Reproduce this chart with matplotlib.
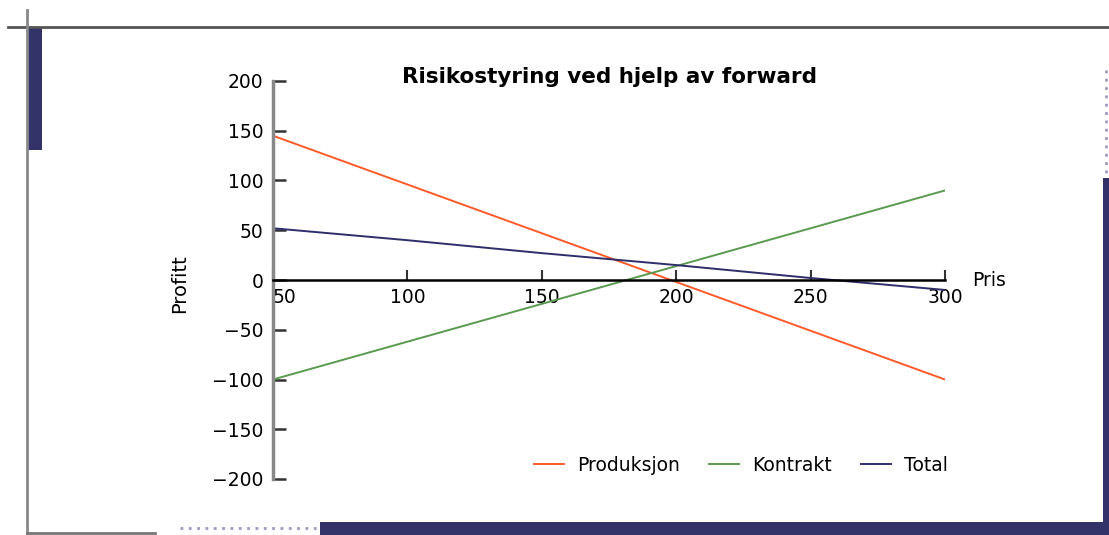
import matplotlib.pyplot as plt
from matplotlib.lines import Line2D
from matplotlib.patches import Rectangle

plt.rcParams['font.family'] = ['DejaVu Sans']

# --------        data        --------
pris = [50, 100, 150, 200, 250, 300]
produksjon = [145, 96, 47, -2, -51, -100]
kontrakt = [-100, -62, -24, 14, 52, 90]
total = [52, 40, 27, 15, 2, -10]

series_names = ['Produksjon', 'Kontrakt', 'Total']
series_colors = ['#ff5a2a', '#5a9a50', '#2e2e6a']

W, H = 1109, 535
fig = plt.figure(figsize=(W / 100, H / 100), dpi=100)


def px(x, y):
    """Pikselkoordinater (fra øverst til venstre) -> figurkoordinater."""
    return x / W, 1 - y / H


# --------        ramme rundt figuren        --------
navy = '#33336a'
fig.add_artist(Line2D([8 / W, 1], [px(0, 27)[1]] * 2, color='#555555', lw=2))
fig.add_artist(Line2D([27 / W] * 2, [px(0, 10)[1], px(0, 533)[1]], color='#888888', lw=2))
fig.add_artist(Line2D([27 / W, 155 / W], [px(0, 533)[1]] * 2, color='#777777', lw=2))
fig.add_artist(Rectangle(px(28, 150), 14 / W, 123 / H, color=navy, lw=0))
fig.add_artist(Rectangle(px(320, 535), (W - 320) / W, 13 / H, color=navy, lw=0))
fig.add_artist(Rectangle(px(1103, 535), 6 / W, 357 / H, color=navy, lw=0))
fig.add_artist(Line2D([180 / W, 318 / W], [px(0, 528)[1]] * 2, color='#9a9ac0', lw=2, ls=(0, (1, 2))))
fig.add_artist(Line2D([1106 / W] * 2, [px(0, 70)[1], px(0, 176)[1]], color='#9a9ac0', lw=2, ls=(0, (1, 2))))

# --------        diagram        --------
ax = fig.add_axes([273 / W, 56 / H, 672 / W, 398 / H])

for name, values, color in zip(series_names, [produksjon, kontrakt, total], series_colors):
    ax.plot(pris, values, color=color, lw=1.4, label=name)

ax.set_xlim(50, 300)
ax.set_ylim(-200, 200)
ax.set_xticks(pris)
ax.set_yticks(range(-200, 201, 50))

ax.spines['top'].set_visible(False)
ax.spines['right'].set_visible(False)
ax.spines['left'].set_color('#888888')
ax.spines['left'].set_linewidth(2.5)
ax.spines['bottom'].set_position(('data', 0))
ax.spines['bottom'].set_color('black')
ax.spines['bottom'].set_linewidth(1.8)

ax.tick_params(axis='y', direction='in', length=9, width=1.8, color='#333333',
               labelsize=13.5, pad=7)
ax.tick_params(axis='x', direction='in', length=7, width=1.5, color='#333333',
               labelsize=13.5, pad=6)
ax.get_xticklabels()[0].set_horizontalalignment('left')

ax.text(0.5, 1.01, 'Risikostyring ved hjelp av forward', transform=ax.transAxes,
        fontsize=15.5, fontweight='bold', ha='center', va='center')
ax.set_ylabel('Profitt', fontsize=14)
ax.yaxis.set_label_coords(-0.125, 0.49)
ax.text(1.04, 0.5, 'Pris', transform=ax.transAxes, fontsize=13.5,
        ha='left', va='center')

ax.legend(loc='center right', bbox_to_anchor=(1.005, 0.035), ncol=3, frameon=False,
          fontsize=13.5, handlelength=1.6, columnspacing=1.55, handletextpad=0.7,
          borderpad=0, borderaxespad=0)

fig.savefig('out.png', dpi=100)
